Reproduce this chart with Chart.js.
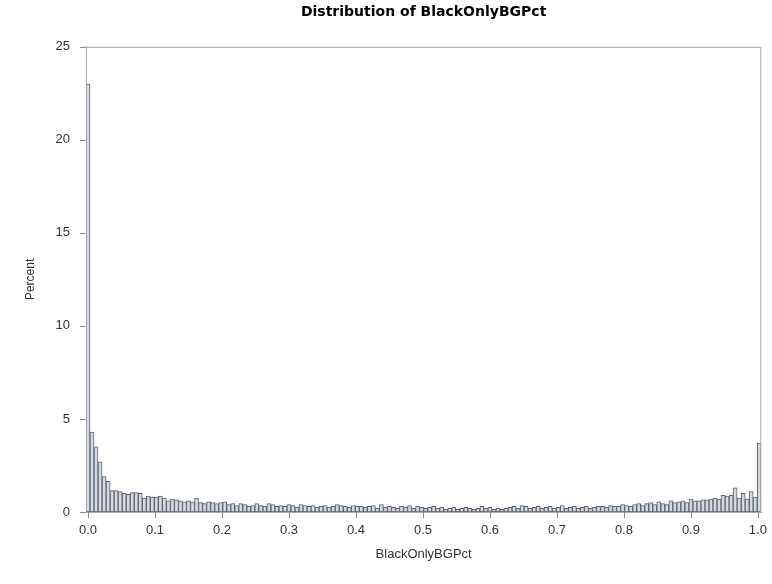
<!DOCTYPE html>
<html lang="en">
<head>
    <meta charset="UTF-8">
    <title>Distribution of BlackOnlyBGPct</title>
    <script src="https://cdn.jsdelivr.net/npm/chart.js@4.4.1/dist/chart.umd.min.js"></script>
    <style>
        html, body { margin: 0; padding: 0; background: #fff; }
        .chart-box { width: 772px; height: 584px; }
    </style>
</head>
<body>
    <div class="chart-box">
        <canvas id="histChart" width="772" height="584"></canvas>
    </div>

    <script>
        // Histogram bins: width 0.006, first midpoint at 0
        const binStart = 0;
        const binWidth = 0.006;

        // Percent per bin (168 bins, 0.000 .. 1.002)
        const percentValues = [
            23.0, 4.3, 3.5, 2.7, 1.9, 1.65, 1.15, 1.15, 1.1, 1.0,
            0.95, 1.05, 1.05, 1.0, 0.75, 0.85, 0.8, 0.8, 0.85, 0.75,
            0.6, 0.7, 0.65, 0.6, 0.55, 0.6, 0.55, 0.75, 0.5, 0.45,
            0.55, 0.5, 0.45, 0.5, 0.55, 0.4, 0.45, 0.35, 0.45, 0.4,
            0.3, 0.35, 0.45, 0.35, 0.3, 0.45, 0.4, 0.3, 0.35, 0.3,
            0.4, 0.35, 0.25, 0.4, 0.35, 0.3, 0.35, 0.25, 0.3, 0.35,
            0.25, 0.3, 0.4, 0.35, 0.3, 0.25, 0.35, 0.3, 0.3, 0.25,
            0.3, 0.35, 0.2, 0.4, 0.25, 0.3, 0.25, 0.2, 0.3, 0.25,
            0.35, 0.2, 0.3, 0.25, 0.2, 0.25, 0.3, 0.2, 0.25, 0.15,
            0.2, 0.25, 0.15, 0.2, 0.25, 0.2, 0.15, 0.2, 0.3, 0.2,
            0.25, 0.15, 0.2, 0.15, 0.2, 0.25, 0.3, 0.2, 0.35, 0.3,
            0.2, 0.25, 0.3, 0.2, 0.25, 0.3, 0.2, 0.25, 0.35, 0.2,
            0.25, 0.3, 0.2, 0.25, 0.3, 0.2, 0.25, 0.3, 0.3, 0.25,
            0.35, 0.3, 0.3, 0.4, 0.35, 0.3, 0.4, 0.45, 0.35, 0.45,
            0.5, 0.4, 0.55, 0.45, 0.4, 0.6, 0.5, 0.55, 0.6, 0.5,
            0.7, 0.6, 0.6, 0.65, 0.65, 0.7, 0.75, 0.7, 0.9, 0.85,
            0.9, 1.3, 0.75, 1.0, 0.7, 1.1, 0.8, 3.7
        ];

        const xTickStep = 0.1;
        const yTicks = [0, 5, 10, 15, 20, 25];

        // bin midpoints
        const binMids = percentValues.map((v, i) => +(binStart + i * binWidth).toFixed(3));
        const points = binMids.map((x, i) => ({ x: x, y: percentValues[i] }));

        const fontFam = 'Liberation Sans, Arial, sans-serif';
        const axisGray = '#8c8c8c';

        // gray frame around the plot area + outside tick marks (SAS style)
        const frameBox = {
            id: 'frameBox',
            afterDraw(chart) {
                const { ctx, chartArea, scales } = chart;
                ctx.save();
                ctx.strokeStyle = '#a8a8a8';
                ctx.lineWidth = 1;
                ctx.strokeRect(chartArea.left + 0.5, chartArea.top + 0.5,
                    chartArea.right - chartArea.left - 1, chartArea.bottom - chartArea.top);

                ctx.strokeStyle = axisGray;
                ctx.beginPath();
                scales.x.ticks.forEach(t => {
                    const px = Math.round(scales.x.getPixelForValue(t.value)) + 0.5;
                    ctx.moveTo(px, chartArea.bottom);
                    ctx.lineTo(px, chartArea.bottom + 6);
                });
                scales.y.ticks.forEach(t => {
                    const py = Math.round(scales.y.getPixelForValue(t.value)) + 0.5;
                    ctx.moveTo(chartArea.left - 6, py);
                    ctx.lineTo(chartArea.left, py);
                });
                ctx.stroke();
                ctx.restore();
            }
        };

        const ctx = document.getElementById('histChart').getContext('2d');
        new Chart(ctx, {
            type: 'bar',
            data: {
                datasets: [{
                    label: 'Percent',
                    data: points,
                    backgroundColor: '#d3d8e3',
                    borderColor: '#5c606c',
                    borderWidth: 1,
                    borderSkipped: false,
                    barPercentage: 1.0,
                    categoryPercentage: 1.0
                }]
            },
            options: {
                responsive: false,
                animation: false,
                layout: { padding: { left: 0, right: 8, top: 0, bottom: 0 } },
                plugins: {
                    legend: { display: false },
                    tooltip: { enabled: false },
                    title: {
                        display: true,
                        fullSize: false,
                        text: 'Distribution of BlackOnlyBGPct',
                        color: '#000',
                        font: { family: 'DejaVu Sans, sans-serif', size: 14, weight: 'bold' },
                        padding: { top: 4, bottom: 26 }
                    }
                },
                scales: {
                    x: {
                        type: 'linear',
                        offset: false,
                        min: binStart - binWidth / 2,
                        max: binMids[binMids.length - 1] + binWidth / 2,
                        afterFit(scale) { scale.height = 72; },
                        border: { display: true, color: '#a8a8a8' },
                        grid: { display: false, tickLength: 6 },
                        ticks: {
                            stepSize: xTickStep,
                            includeBounds: false,
                            maxRotation: 0,
                            padding: 5,
                            color: '#333',
                            font: { family: fontFam, size: 13 },
                            callback: (v) => v.toFixed(1)
                        },
                        title: {
                            display: true,
                            text: 'BlackOnlyBGPct',
                            color: '#333',
                            font: { family: fontFam, size: 13 },
                            padding: { top: 0, bottom: 22 }
                        }
                    },
                    y: {
                        min: yTicks[0],
                        max: yTicks[yTicks.length - 1],
                        afterFit(scale) { scale.width = 86; },
                        border: { display: true, color: '#a8a8a8' },
                        grid: { display: false },
                        ticks: {
                            stepSize: 5,
                            padding: 8,
                            color: '#333',
                            font: { family: fontFam, size: 13 }
                        },
                        title: {
                            display: true,
                            text: 'Percent',
                            color: '#333',
                            font: { family: fontFam, size: 12 },
                            padding: { top: 23, bottom: 0 }
                        }
                    }
                }
            },
            plugins: [frameBox]
        });
    </script>
</body>
</html>
